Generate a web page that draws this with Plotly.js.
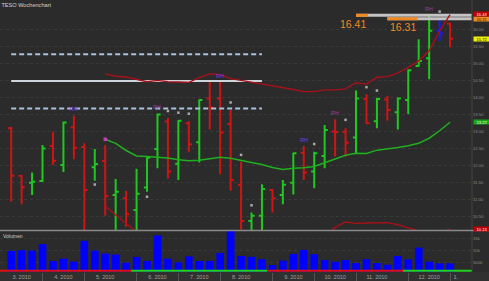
<!DOCTYPE html>
<html><head><meta charset="utf-8">
<script src="https://cdn.plot.ly/plotly-3.0.1.min.js"></script>
<style>html,body{margin:0;padding:0;background:#2b2b2b;}#chart{width:489px;height:281px;}</style>
</head><body><div id="chart"></div>
<script>
// ---------------- DATA ----------------
const weekDates = ["2010-03-15","2010-03-22","2010-03-29","2010-04-05","2010-04-12","2010-04-19","2010-04-26",
"2010-05-03","2010-05-10","2010-05-17","2010-05-24","2010-05-31","2010-06-07","2010-06-14","2010-06-21","2010-06-28",
"2010-07-05","2010-07-12","2010-07-19","2010-07-26","2010-08-02","2010-08-09","2010-08-16","2010-08-23","2010-08-30",
"2010-09-06","2010-09-13","2010-09-20","2010-09-27","2010-10-04","2010-10-11","2010-10-18","2010-10-25",
"2010-11-01","2010-11-08","2010-11-15","2010-11-22","2010-11-29","2010-12-06","2010-12-13","2010-12-20","2010-12-27","2011-01-03"];
const openP  = [13.09,11.69,11.49,11.54,12.57,12.01,13.12,12.54,11.95,12.13,11.13,11.04,10.69,11.35,12.48,13.29,12.05,13.24,12.68,13.97,13.97,13.22,11.43,10.37,10.52,11.28,11.13,11.49,12.37,11.82,12.28,13.00,12.99,12.82,13.95,13.30,13.94,13.56,13.92,14.92,15.15,15.96,16.16];
const highP  = [13.14,11.72,11.79,12.60,12.99,13.29,13.46,12.65,12.48,12.60,11.60,11.25,11.90,12.27,13.53,13.40,13.33,13.30,13.94,14.45,14.45,13.63,12.11,10.62,11.45,11.31,11.57,12.37,12.57,12.40,13.19,13.36,13.09,14.20,14.09,13.99,14.05,14.00,14.82,15.71,16.42,16.29,16.19];
const lowP   = [10.94,10.86,11.13,11.52,12.01,11.81,12.18,10.00,11.55,10.52,10.00,10.20,10.00,11.23,11.92,11.62,11.57,12.40,12.09,13.06,11.74,11.26,10.12,10.00,10.00,10.62,10.86,11.15,11.57,11.33,11.92,12.26,12.26,12.36,13.22,13.09,13.31,13.06,13.51,14.90,14.53,15.66,15.47];
const closeP = [11.70,11.36,11.52,12.50,12.14,13.26,12.52,11.28,12.04,11.10,11.23,10.57,11.17,12.23,13.50,11.82,13.31,12.62,13.92,13.70,12.96,11.57,10.37,10.52,11.31,11.04,11.43,12.36,11.79,12.36,13.04,12.98,12.67,13.97,13.24,13.95,13.63,13.97,14.80,15.07,15.96,15.88,15.72];
const volume = [9750,10050,9900,12550,5550,6500,5250,13950,9900,8600,8200,4850,7250,5550,16200,6500,5000,7500,5550,5550,8900,18300,7650,7250,6250,3850,5700,8500,10150,8350,5950,5250,5950,4700,6250,4700,4000,7650,6250,11150,5250,4550,4550];
const N = null;
const bbMid   = [N,N,N,N,N,N,N,N,N,12.77,12.65,12.44,12.28,12.26,12.25,12.22,12.17,12.14,12.15,12.19,12.24,12.21,12.14,12.09,12.03,11.94,11.88,11.92,11.93,11.97,12.08,12.20,12.30,12.36,12.35,12.45,12.48,12.53,12.58,12.65,12.80,13.02,13.27];
const bbUpper = [N,N,N,N,N,N,N,N,N,14.69,14.62,14.60,14.53,14.46,14.50,14.46,14.45,14.44,14.58,14.69,14.67,14.55,14.50,14.45,14.39,14.33,14.28,14.23,14.17,14.17,14.22,14.22,14.25,14.43,14.39,14.59,14.61,14.72,14.88,15.07,15.37,15.95,16.43];
const bbLower = [N,N,N,N,N,N,N,N,N,10.80,10.55,10.30,10.05,10.02,9.98,9.96,9.89,9.84,9.72,9.71,9.81,9.87,9.78,9.73,9.67,9.55,9.48,9.61,9.69,9.77,9.94,10.18,10.34,10.30,10.31,10.31,10.32,10.26,10.16,10.06,9.98,10.02,10.13];
const trend = ["d","d","d","d","d","d","d","d","d","d","d","d","u","u","u","u","u","u","u","u","u","u","u","u","u",
               "d","d","d","d","d","d","d","d","d","d","d","d","d","u","u","u","u","u"];
const dotWeeks  = [8,13,15,16,17,21,22,23,29,32,34,35,41];
const dotValues = [11.44,11.08,13.60,13.55,13.52,13.85,12.31,10.83,12.63,13.34,14.30,14.20,16.52];
const rhWeeks = [6,14,20,28,31,40];
const blueBarWeeks = [41];
const levelValues = [15.27,14.48,13.67];
const levelFromWeek = [0,0,0];
const levelToWeek = [24,24,24];
const markValues = [16.41,16.31];
const markFromWeek = [33,36];
const priceTicks = [10.5,11,11.5,12,12.5,13,13.5,14,14.5,15,15.5,16];
const volumeTicks = [5000,10000,15000];

// ---------------- STYLE ----------------
const BG = '#2b2b2b';
const NARROW = "'Liberation Sans Narrow','Arial Narrow','Liberation Sans',Arial,sans-serif";
const xMin = -1.07, xMax = 44.1;
const levelDash = ['5px,3px','solid','5px,3px'];
const levelColor = ['#a9c1dc','#cdd4dc','#a9c1dc'];
const markOrangeLen = [1.15, 2.9];
const ORANGE = '#ef8a22';

const weeks = weekDates.map((d,i)=>i);
const traces = [];

// level lines
levelValues.forEach((v,k)=>{
  traces.push({type:'scatter',mode:'lines',x:[levelFromWeek[k],levelToWeek[k]],y:[v,v],
    line:{color:levelColor[k],width:2,dash:levelDash[k]},hoverinfo:'skip',xaxis:'x',yaxis:'y'});
});
// mark lines (gray + orange head)
markValues.forEach((v,k)=>{
  traces.push({type:'scatter',mode:'lines',x:[markFromWeek[k],xMax],y:[v,v],
    line:{color:'#c4c4c4',width:3},hoverinfo:'skip',xaxis:'x',yaxis:'y'});
  traces.push({type:'scatter',mode:'lines',x:[markFromWeek[k],markFromWeek[k]+markOrangeLen[k]],y:[v,v],
    line:{color:ORANGE,width:3},hoverinfo:'skip',xaxis:'x',yaxis:'y'});
});
// Bollinger bands
traces.push({type:'scatter',mode:'lines',x:weeks,y:bbUpper,line:{color:'#a8101a',width:1.4},hoverinfo:'skip',xaxis:'x',yaxis:'y'});
traces.push({type:'scatter',mode:'lines',x:weeks,y:bbLower,line:{color:'#a8101a',width:1.4},hoverinfo:'skip',xaxis:'x',yaxis:'y'});
traces.push({type:'scatter',mode:'lines',x:weeks,y:bbMid,line:{color:'#1faf1f',width:1.5},hoverinfo:'skip',xaxis:'x',yaxis:'y'});
const firstMid = bbMid.findIndex(v=>v!==null);
traces.push({type:'scatter',mode:'markers',x:[firstMid],y:[bbMid[firstMid]],
  marker:{color:'#c040b0',size:3.5,symbol:'square'},hoverinfo:'skip',xaxis:'x',yaxis:'y'});

// OHLC
const mainIdx = weeks.filter(i=>!blueBarWeeks.includes(i));
traces.push({type:'ohlc',x:mainIdx,open:mainIdx.map(i=>openP[i]),high:mainIdx.map(i=>highP[i]),
  low:mainIdx.map(i=>lowP[i]),close:mainIdx.map(i=>closeP[i]),tickwidth:0.3,
  increasing:{line:{color:'#1ec81e',width:2}},decreasing:{line:{color:'#d01414',width:2}},
  hoverinfo:'skip',xaxis:'x',yaxis:'y'});
const pick = arr => weeks.map(i=>blueBarWeeks.includes(i)?arr[i]:null);
traces.push({type:'ohlc',x:weeks,open:pick(openP),high:pick(highP),low:pick(lowP),close:pick(closeP),tickwidth:0.3,
  increasing:{line:{color:'#1a1aff',width:2}},decreasing:{line:{color:'#1a1aff',width:2}},
  hoverinfo:'skip',xaxis:'x',yaxis:'y'});

// dots
traces.push({type:'scatter',mode:'markers',x:dotWeeks,y:dotValues,
  marker:{color:'#a8a8a8',size:2.5,symbol:'square'},hoverinfo:'skip',xaxis:'x',yaxis:'y'});

// volume
traces.push({type:'bar',x:weeks,y:volume,width:0.73,marker:{color:'#0000ff',line:{width:0}},
  hoverinfo:'skip',xaxis:'x2',yaxis:'y2'});

// trend line at bottom of volume panel
let runStart = 0;
for (let i=1;i<=trend.length;i++){
  if (i===trend.length || trend[i]!==trend[runStart]){
    const x0 = runStart===0 ? xMin : runStart-0.5;
    const x1 = i===trend.length ? xMax : i-0.5;
    traces.push({type:'scatter',mode:'lines',x:[x0,x1],y:[0.03,0.03],
      line:{color:trend[runStart]==='u'?'#22d022':'#dd1111',width:2},hoverinfo:'skip',xaxis:'x2',yaxis:'y3'});
    runStart = i;
  }
}

// month ticks
const sepWeeks = weeks.filter(i=>i>0 && weekDates[i].slice(5,7)!==weekDates[i-1].slice(5,7));
const monthLabel = i => Number(weekDates[i].slice(5,7))+'. '+weekDates[i].slice(0,4);
const tickvals=[], ticktext=[];
tickvals.push(sepWeeks[0]-2.0); ticktext.push(monthLabel(0));
sepWeeks.forEach(s=>{
  if (s+2.0 > xMax-1.5){ tickvals.push(s+0.55); ticktext.push(Number(weekDates[s].slice(5,7))+'.'); }
  else { tickvals.push(s+2.0); ticktext.push(monthLabel(s)); }
});

// annotations
const ann = [];
rhWeeks.forEach(i=>ann.push({x:i,y:highP[i],xref:'x',yref:'y',text:'RH',showarrow:false,yanchor:'middle',yshift:6.5,
  font:{family:NARROW,size:5.5,color:'#8a3cd0'}}));
markValues.forEach((v,k)=>ann.push({x:markFromWeek[k]+markOrangeLen[k],y:v,xref:'x',yref:'y',text:v.toFixed(2),
  showarrow:false,xanchor:'right',yanchor:'top',yshift:-0.5,font:{family:'Liberation Sans, Arial, sans-serif',size:10.5,color:ORANGE}}));
const lastIdx = weeks.length-1;
const sideLabels = [
  {v:markValues[1], bg:ORANGE, fc:'#3a1a00', dy:-0.6},
  {v:bbUpper[lastIdx], bg:'#c00000', fc:'#ffffff', dy:0.6},
  {v:closeP[lastIdx], bg:'#f2f200', fc:'#000000', dy:0},
  {v:bbMid[lastIdx], bg:'#17a817', fc:'#ffffff', dy:0},
  {v:bbLower[lastIdx], bg:'#c00000', fc:'#ffffff', dy:0}
];
sideLabels.forEach(s=>ann.push({x:1,xref:'paper',y:s.v,yref:'y',xanchor:'left',yanchor:'middle',xshift:0.5,yshift:s.dy,
  text:s.v.toFixed(2),showarrow:false,bgcolor:s.bg,width:16,height:4.2,borderpad:0,
  font:{family:NARROW,size:4,color:s.fc}}));
ann.push({x:0.002,xref:'paper',y:41/272,yref:'paper',xanchor:'left',yanchor:'top',text:'Volumen',showarrow:false,
  font:{family:NARROW,size:5,color:'#cfcfcf'}});

const axisFont = {family:NARROW,size:4.2,color:'#8c8c8c'};

const layout = {
  width:489,height:281,paper_bgcolor:BG,plot_bgcolor:BG,
  margin:{l:0,r:17,t:0,b:9,pad:0},showlegend:false,hovermode:false,
  font:{family:NARROW,color:'#9a9a9a'},
  title:{text:'TESO Wochenchart',x:0.003,xanchor:'left',xref:'paper',y:1-5/281,yref:'container',yanchor:'middle',
    font:{family:NARROW,size:5.6,color:'#d2d2d2'}},
  xaxis:{domain:[0,1],anchor:'y',range:[xMin,xMax],showticklabels:false,ticks:'',showgrid:false,zeroline:false,
    showline:false,rangeslider:{visible:false},fixedrange:true},
  xaxis2:{domain:[0,1],anchor:'y2',matches:'x',range:[xMin,xMax],tickmode:'array',tickvals:tickvals,ticktext:ticktext,
    ticks:'',tickfont:{family:NARROW,size:5.5,color:'#a0a0a0'},showgrid:false,zeroline:false,showline:false,
    rangeslider:{visible:false},automargin:false,
    minor:{tickmode:'array',tickvals:sepWeeks,ticks:'outside',ticklen:9,tickcolor:'#555555',tickwidth:1,showgrid:false}},
  yaxis:{domain:[42/272,1],anchor:'x',range:[10.104,16.861],side:'right',tickmode:'array',tickvals:priceTicks,
    tickformat:'.2f',tickfont:axisFont,ticks:'',showgrid:true,gridcolor:'#3a3a3a',griddash:'dot',gridwidth:1,
    zeroline:false,showline:false,automargin:false,fixedrange:true},
  yaxis2:{domain:[0,41/272],anchor:'x2',range:[958,18040],side:'right',tickmode:'array',tickvals:volumeTicks,
    tickfont:axisFont,ticks:'',showgrid:true,gridcolor:'#3a3a3a',griddash:'dot',zeroline:false,showline:false,
    automargin:false,fixedrange:true},
  yaxis3:{overlaying:'y2',anchor:'x2',range:[0,1],visible:false,fixedrange:true},
  shapes:[
    {type:'rect',xref:'paper',yref:'paper',x0:0,x1:1.04,y0:-9/272,y1:0,fillcolor:'#303030',line:{width:0},layer:'below'},
    {type:'line',xref:'paper',yref:'paper',x0:1,x1:1,y0:0,y1:1,line:{color:'#444444',width:1}},
    {type:'line',xref:'paper',yref:'paper',x0:0,x1:1.04,y0:41.5/272,y1:41.5/272,line:{color:'#8a8a8a',width:1.5}}
  ],
  annotations:ann
};
Plotly.newPlot('chart',traces,layout,{displayModeBar:false,staticPlot:true});
</script></body></html>
